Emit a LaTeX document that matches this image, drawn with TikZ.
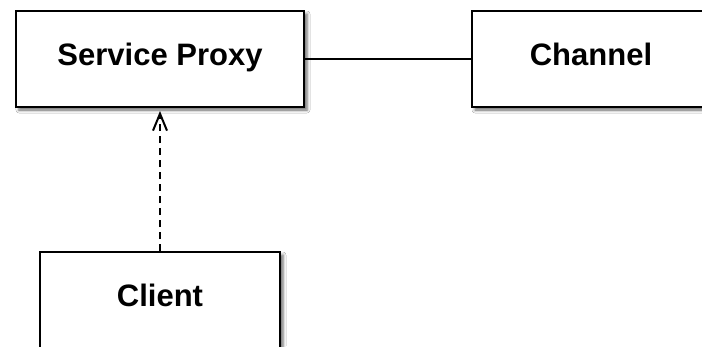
\documentclass[tikz,border=0pt]{standalone}
\usepackage{fontspec}
\setmainfont{Liberation Sans}
\usetikzlibrary{arrows.meta,shadows.blur}
\tikzset{
  classbox/.style={draw=black, line width=2pt, fill=white, rectangle,
    minimum height=96pt, inner sep=0pt,
    font=\fontsize{31}{36}\selectfont\bfseries,
    text height=22pt, text depth=10pt,
    blur shadow={shadow xshift=3pt, shadow yshift=-3pt,
      shadow blur radius=3pt, shadow opacity=60}},
  assoc/.style={draw=black, line width=2pt},
  depends/.style={draw=black, line width=2pt, dash pattern=on 7pt off 5pt,
    -{Straight Barb[length=17pt, width=14pt, line width=2pt]}}
}
\begin{document}
\begin{tikzpicture}[x=1pt, y=-1pt]
  \useasboundingbox (0,0) rectangle (702,346);
  \clip (0,0) rectangle (702,346);
  \fill[white] (0,0) rectangle (702,346);
  \node[classbox, minimum width=288pt] (proxy) at (160,59) {Service Proxy};
  \node[classbox, minimum width=238pt] (channel) at (591,59) {Channel};
  \node[classbox, minimum width=240pt] (client) at (160,300) {Client};
  \draw[assoc] (proxy.east) -- (channel.west);
  \draw[depends] (client.north) -- ([yshift=-3pt]proxy.south);
\end{tikzpicture}
\end{document}
